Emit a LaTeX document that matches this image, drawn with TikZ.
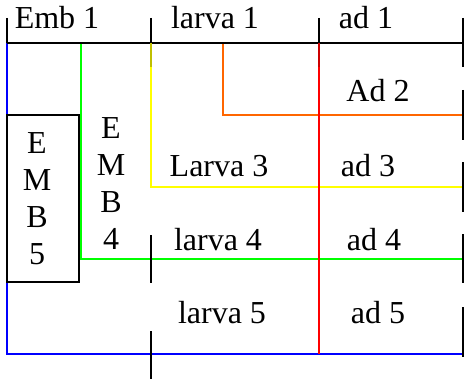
\documentclass[tikz,border=0pt]{standalone}
\usepackage{fontspec}
\setmainfont{Liberation Serif}
\definecolor{lblue}{HTML}{0000FF}
\definecolor{lgreen}{HTML}{00FF00}
\definecolor{lyellow}{HTML}{FFFF00}
\definecolor{lorange}{HTML}{FF6600}
\definecolor{lred}{HTML}{FF0000}
\begin{document}
\begin{tikzpicture}[x=0.5pt,y=-0.5pt,font=\fontsize{16}{18.5}\selectfont,
 line/.style={line width=1pt},
 tick/.style={line,draw=black},
 stage/.style={anchor=base,inner sep=0pt},
 stack/.style={align=center,inner sep=0pt}]
\path[use as bounding box] (0,0) rectangle (464,379);
% stage lines, one colour per cohort
\draw[line,lblue] (7,43) coordinate (b0) -- (7,354) -- (463,354) coordinate (b1);
\draw[line,lgreen] (80.5,43) coordinate (g0) -- (80.5,259) -- (463,259) coordinate (g1);
\draw[line,lyellow] (151,43) coordinate (y0) -- (151,187) -- (463,187) coordinate (y1);
\draw[line,lorange] (223,43) coordinate (o0) -- (223,115) -- (463,115) coordinate (o1);
\draw[line,lred] (319,43) coordinate (r0) -- (319,354) coordinate (r1);
\draw[tick] (7,43) coordinate (k0) -- (463,43) coordinate (k1);
% ticks at the stage borders
\foreach \x/\a/\b in {7/18/43,151/18/43,319/18/43,463/18/67,463/90/140,463/162/212,463/234/283,463/307/357,151/235/283,151/331/379}
 \draw[tick] (\x,\a) -- (\x,\b);
% where a tick runs over a coloured line it darkens it
\draw[line,lyellow!75!black] (y0) -- (151,67);
\draw[line,lred!80!black] (r0) -- (319,67);
% embryo box
\draw[tick,fill=white] (7,115) rectangle (79,282);
\node[stack] (emb5) at (37,199) {E\\M\\B\\5};
\node[stack] (emb4) at (111,184) {E\\M\\B\\4};
% stage labels
\node[stage] (emb1) at (57,29) {Emb 1};
\node[stage] (lar1) at (215,29) {larva 1};
\node[stage] (ad1) at (366,29) {ad 1};
\node[stage] (ad2) at (378,102) {Ad 2};
\node[stage] (lar3) at (219,176) {Larva 3};
\node[stage] (ad3) at (368,176) {ad 3};
\node[stage] (lar4) at (218,250) {larva 4};
\node[stage] (ad4) at (374,250) {ad 4};
\node[stage] (lar5) at (222,323) {larva 5};
\node[stage] (ad5) at (378,323) {ad 5};
\end{tikzpicture}
\end{document}
